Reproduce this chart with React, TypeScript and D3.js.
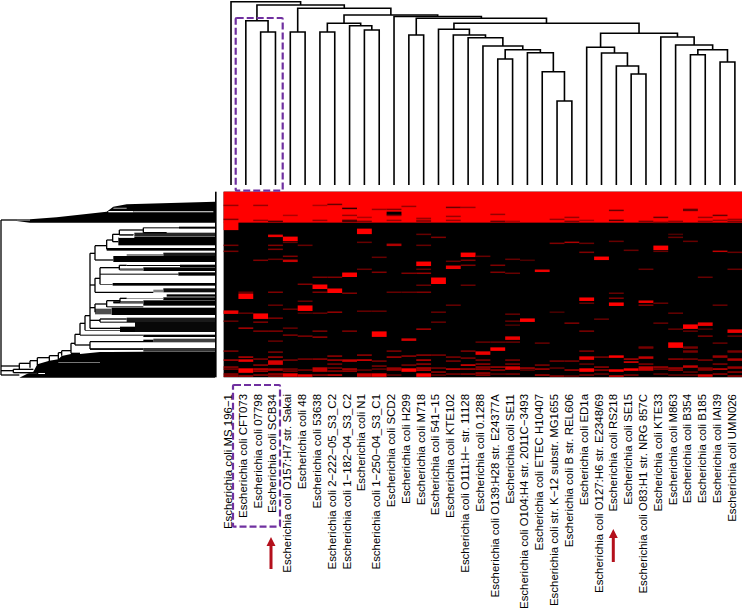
import * as d3 from "d3";

const strains = ["MS 196−1", "CFT073", "07798", "SCB34", "O157:H7 str. Sakai", "48", "53638", "2−222−05_S3_C2", "1−182−04_S3_C2", "N1", "1−250−04_S3_C1", "SCD2", "H299", "M718", "541−15", "KTE102", "O111:H− str. 11128", "0.1288", "O139:H28 str. E24377A", "SE11", "O104:H4 str. 2011C−3493", "ETEC H10407", "str. K−12 substr. MG1655", "B str. REL606", "ED1a", "O127:H6 str. E2348/69", "RS218", "SE15", "O83:H1 str. NRG 857C", "KTE33", "M863", "B354", "B185", "IAI39", "UMN026"];

// column dendrogram: [merge height, left, right], a number is a leaf
const columnTree: any = [183.3, 0, [180,
  [164.3, 1, [153, 2, 3]],
  [176.7, [153, 4, 5], [170,
    [161.7, [153, 6, 7], [159.3, 8, [155, 9, 10]]],
    [168.5, 11, [166.7, [150, 12, 13], [161.7,
      [155.7, 14, [150, 15, [147.3, 16, [139, 17, [135.3, [126, 18, 19], [132.3, 20, [113.3, 21, [84, 22, 23]]]]]]]],
      [151.7,
        [137.7, 24, [132, 25, [119, 26, [111, 27, 28]]]],
        [148, 29, [140, 30, [135.3, [130.3, 31, 32], [123, 33, 34]]]]
      ]
    ]]]
  ]]
]];

const rowCount = 186;
const topBlockRows = 31;

// [column, first row, row count, level]
const topStreaks = [
  [0, 13, 1, .5], [0, 27, 1, .4], [2, 13, 1, .5], [2, 28, 1, .5], [3, 29, 1, .2], [4, 23, 1, .6], [6, 13, 1, .6], [6, 28, 1, .5],
  [7, 12, 1, .3], [8, 16, 1, .1], [8, 23, 1, .5], [8, 28, 2, .2], [9, 25, 1, .6], [9, 29, 1, .4], [10, 17, 1, .5], [11, 17, 1, .4],
  [11, 20, 3, 0], [11, 23, 1, .4], [11, 28, 1, .5], [12, 14, 1, .5], [13, 26, 1, .5], [13, 28, 1, .5], [13, 29, 1, .5], [15, 15, 1, .3],
  [15, 24, 1, .5], [15, 28, 1, .5], [16, 15, 1, .5], [18, 22, 1, .5], [18, 29, 1, .3], [19, 29, 1, .6], [22, 27, 1, .5], [23, 25, 1, .5],
  [23, 29, 1, .4], [24, 28, 1, .6], [26, 18, 1, .3], [26, 28, 1, .2], [28, 29, 1, .4], [29, 25, 1, .3], [29, 30, 1, .4], [30, 29, 1, .5],
  [31, 17, 2, .3], [32, 25, 1, .5], [32, 29, 1, .5], [33, 23, 1, .3], [33, 28, 1, .5], [34, 27, 1, .5], [34, 29, 1, .4],
];

const bodyHits = [
  [0, 30, 8, 1], [0, 53, 1, .35], [0, 59, 1, .35], [0, 119, 3, .9], [0, 129, 1, .3],
  [1, 100, 1, .3], [1, 102, 5, 1], [1, 121, 1, .3], [1, 136, 1, .6],
  [2, 68, 1, .4], [2, 122, 5, 1], [2, 130, 1, .4], [2, 139, 1, .4],
  [3, 43, 2, .9], [3, 53, 1, .4], [3, 57, 1, .4], [3, 67, 1, .3], [3, 100, 1, .4], [3, 113, 1, .3], [3, 126, 1, .4], [3, 139, 1, .4], [3, 149, 1, .3],
  [4, 45, 4, 1], [4, 50, 1, .3], [4, 64, 1, .4], [4, 68, 2, .7], [4, 117, 1, .3], [4, 136, 1, .3], [4, 143, 1, .4],
  [5, 53, 1, .3], [5, 92, 1, .4], [5, 109, 1, .3], [5, 114, 5, 1], [5, 121, 1, .2], [5, 144, 1, .4],
  [6, 85, 1, .4], [6, 93, 4, 1], [6, 100, 1, .4], [6, 121, 1, .3], [6, 139, 1, .4], [6, 145, 1, .5],
  [7, 85, 1, .4], [7, 97, 4, 1], [7, 120, 1, .5],
  [8, 81, 4, 1], [8, 101, 1, .4], [8, 139, 1, .4],
  [9, 37, 5, 1], [9, 50, 1, .3], [9, 77, 1, .3], [9, 119, 1, .3],
  [10, 65, 1, .3], [10, 80, 1, .4], [10, 119, 1, .3], [10, 140, 5, 1],
  [11, 52, 2, .6], [11, 100, 1, .3],
  [12, 81, 1, .4], [12, 100, 1, .3], [12, 147, 2, .8],
  [13, 42, 1, .3], [13, 53, 1, .3], [13, 70, 4, 1], [13, 77, 1, .3], [13, 81, 1, .5], [13, 93, 1, .3], [13, 100, 1, .4], [13, 137, 1, .6],
  [14, 45, 1, .4], [14, 86, 6, 1], [14, 120, 1, .3], [14, 130, 1, .3],
  [15, 69, 1, .3], [15, 74, 3, .9], [15, 113, 1, .3],
  [16, 61, 4, 1], [16, 68, 1, .4], [16, 73, 1, .4], [16, 93, 1, .3],
  [17, 64, 1, .3], [17, 150, 1, .3],
  [18, 73, 1, .4], [18, 80, 1, .4], [18, 150, 1, .3],
  [19, 67, 1, .3], [19, 81, 1, .3], [19, 122, 1, .3], [19, 129, 1, .3], [19, 133, 1, .2], [19, 145, 3, .9], [19, 150, 1, .3],
  [20, 68, 1, .2], [20, 127, 3, 1],
  [21, 78, 2, .9], [21, 151, 1, .3],
  [22, 51, 1, .4], [22, 120, 1, .2],
  [23, 50, 1, .6], [23, 131, 1, .4],
  [24, 51, 1, .3], [24, 60, 1, .4], [24, 106, 3, 1], [24, 111, 1, .3], [24, 139, 1, .4],
  [25, 65, 3, 1], [25, 127, 1, .3],
  [26, 49, 1, .3], [26, 101, 1, .3], [26, 106, 1, .4], [26, 111, 3, 1],
  [27, 58, 1, .3],
  [28, 77, 1, .3], [28, 109, 2, .9], [28, 113, 1, .4], [28, 156, 1, .3],
  [29, 54, 4, 1], [29, 59, 1, .3], [29, 111, 1, .3], [29, 131, 1, .3],
  [30, 42, 1, .2], [30, 45, 1, .3], [30, 121, 1, .3], [30, 137, 1, .3], [30, 151, 5, 1],
  [31, 49, 1, .3], [31, 133, 4, 1], [31, 139, 1, .3], [31, 156, 1, .3], [31, 160, 1, .3],
  [32, 85, 1, .3], [32, 131, 3, .9], [32, 137, 1, .2], [32, 144, 1, .4],
  [33, 59, 1, .7], [33, 113, 1, .3], [33, 151, 1, .3],
  [34, 60, 1, .3], [34, 77, 1, .3], [34, 138, 3, .9], [34, 144, 1, .3], [34, 160, 1, .3],
];

const bottomHits = [
  [0, 159, 1, .4], [0, 168, 1, .6], [0, 175, 1, .5], [0, 177, 1, .4], [0, 182, 1, .5], [0, 184, 1, .6],
  [1, 165, 1, .7], [1, 168, 2, .9], [1, 177, 4, 1], [1, 184, 1, .6],
  [2, 167, 1, .4], [2, 173, 1, .5], [2, 177, 1, .8], [2, 179, 1, .7], [2, 183, 1, .5],
  [3, 160, 1, .4], [3, 165, 1, .6], [3, 169, 4, .8], [3, 177, 2, .6], [3, 182, 1, .6], [3, 184, 1, .5],
  [4, 168, 1, .4], [4, 177, 1, .4], [4, 179, 1, .4], [4, 182, 3, .9],
  [5, 167, 1, .4], [5, 178, 1, .4], [5, 183, 2, .9],
  [6, 167, 1, .5], [6, 176, 4, .7], [6, 183, 1, .5],
  [7, 164, 1, .5], [7, 168, 1, .6], [7, 172, 1, .4], [7, 176, 1, .4], [7, 179, 1, .5], [7, 183, 1, .8],
  [8, 168, 2, .7], [8, 177, 1, .7], [8, 179, 1, .6],
  [9, 163, 1, .5], [9, 168, 1, .9], [9, 178, 1, .3], [9, 182, 3, .7],
  [10, 169, 1, .4], [10, 174, 1, .4], [10, 177, 1, .3], [10, 182, 3, .9],
  [11, 159, 1, .4], [11, 165, 1, .6], [11, 176, 3, .5], [11, 183, 1, .3],
  [12, 164, 1, .5], [12, 173, 1, .4], [12, 177, 3, 1],
  [13, 163, 1, .5], [13, 168, 1, .7], [13, 172, 1, .5], [13, 176, 1, .7], [13, 178, 1, .8], [13, 182, 3, 1],
  [14, 163, 1, .4], [14, 176, 1, .4], [14, 180, 1, .5], [14, 183, 1, .3],
  [15, 165, 1, .4], [15, 169, 1, .4], [15, 177, 1, .8], [15, 182, 1, .4],
  [16, 159, 1, .4], [16, 166, 1, .4], [16, 173, 1, .9], [16, 177, 1, .6], [16, 182, 1, .5],
  [17, 160, 3, .9], [17, 168, 1, .4], [17, 172, 1, .5], [17, 175, 1, .5], [17, 177, 1, .6], [17, 181, 1, .6], [17, 183, 1, .5],
  [18, 156, 3, 1], [18, 175, 1, .6], [18, 178, 1, .5], [18, 182, 1, .3],
  [19, 168, 1, .4], [19, 172, 1, .4], [19, 175, 3, .8], [19, 182, 1, .4],
  [20, 176, 1, .6], [20, 178, 1, .3],
  [21, 173, 1, .4], [21, 177, 1, .6], [21, 183, 1, .6],
  [22, 169, 1, .4], [22, 176, 1, .3], [22, 184, 1, .5],
  [23, 169, 1, .4], [23, 178, 1, .6], [23, 184, 1, .3],
  [24, 159, 1, .4], [24, 165, 3, .9], [24, 172, 1, .3], [24, 177, 3, 1], [24, 183, 1, .4],
  [25, 165, 1, .4], [25, 175, 1, .5], [25, 178, 1, .5], [25, 182, 1, .3],
  [26, 164, 2, 1], [26, 178, 2, 1], [26, 184, 1, .8],
  [27, 167, 1, .6], [27, 170, 1, .9], [27, 177, 2, 1], [27, 183, 1, .4],
  [28, 155, 1, .4], [28, 165, 2, .7], [28, 172, 1, .4], [28, 175, 4, .7],
  [29, 175, 1, .6], [29, 177, 1, .4], [29, 182, 1, .3],
  [30, 167, 1, .5], [30, 176, 1, .6], [30, 178, 1, .6], [30, 183, 1, .3],
  [31, 155, 1, .4], [31, 159, 1, .4], [31, 167, 1, .4], [31, 174, 2, .7], [31, 180, 1, .3], [31, 183, 1, .3],
  [32, 168, 1, .4], [32, 176, 3, .4], [32, 183, 2, .8],
  [33, 164, 2, .5], [33, 172, 1, .4], [33, 177, 1, .8], [33, 182, 1, .5],
  [34, 159, 1, .4], [34, 167, 2, .6], [34, 175, 2, .5], [34, 180, 1, .5], [34, 184, 1, .5],
];

// row dendrogram: node(depth, row, ...children), no children means a leaf clade
const node = (depth: number, row: number, ...kids: any[]) => ({ depth, row, kids });

const upperBranch = node(285, 205,
  node(320, 182,
    node(338, 165,
      node(358, 148,
        node(430, 135, node(430, 128), node(500, 143)),
        node(400, 150)),
      node(355, 170)),
    node(320, 193)),
  node(340, 225));

const middleBranch = node(285, 300,
  node(300, 280,
    node(358, 248, node(380, 241), node(360, 254)),
    node(300, 267),
    node(300, 298)),
  node(460, 322));

const lowerBranch = node(285, 368,
  node(320, 357,
    node(360, 347, node(380, 340), node(340, 352)),
    node(320, 366)),
  node(285, 382));

const spine = node(270, 392,
  upperBranch, middleBranch, lowerBranch,
  node(300, 406, node(300, 402), node(300, 411)),
  node(360, 430));

const stairs = node(58, 543,
  node(90, 535,
    node(112, 527,
      node(148, 518,
        node(175, 512,
          node(185, 503,
            node(213, 497,
              node(225, 475,
                node(240, 448, node(255, 415, spine, node(255, 436)), node(240, 450)),
                node(270, 480, node(460, 470), node(430, 492))),
              node(240, 505)),
            node(185, 512)),
          node(175, 524)),
        node(148, 530)),
      node(112, 540)),
    node(90, 548)),
  node(58, 553));

const rowTree = node(3, 330, node(50, 105), stairs, node(40, 557, node(100, 553), node(110, 563)), node(58, 570));

// outline of the two big leaf masses of the row dendrogram
const topCladeDepth = [50, 90, 170, 320, 340, 380, 645];
const topCladeUpper = [103, 103, 97, 80, 65, 58, 50];
const topCladeLower = [108, 113, 113, 113, 113, 113, 113];
const bottomCladeDepth = [58, 85, 100, 112, 148, 175, 185, 213, 240, 300, 330, 430, 645];
const bottomCladeUpper = [578, 565, 560, 538, 527, 523, 513, 507, 507, 501, 501, 500, 500];

// [first row, last row, first depth, last depth, tone]
const rowBands = [
  [102, 108, 50, 90, .4], [78, 82, 325, 400, 1], [78, 82, 400, 640, .7], [68, 72, 340, 380, .5],
  [125, 131, 537, 645, 0], [127, 130, 430, 537, 0], [143, 155, 403, 645, .15], [147, 150, 358, 403, .6],
  [156, 181, 355, 645, 0], [156, 159, 355, 403, .9], [189, 197, 320, 645, 0],
  [203, 213, 490, 645, .1], [208, 212, 380, 490, .3], [213, 231, 340, 645, 0],
  [239, 246, 540, 645, 0], [240, 243, 380, 540, 0], [247, 258, 430, 645, 0], [250, 257, 360, 430, .35],
  [262, 272, 535, 645, 0], [266, 269, 300, 535, 0], [294, 302, 338, 645, 0], [297, 299, 300, 338, 0],
  [310, 322, 490, 645, .05], [314, 322, 460, 490, .5],
  [328, 335, 500, 645, 0], [337, 345, 490, 645, 0], [339, 342, 380, 490, .6], [346, 362, 430, 645, 0], [348, 356, 340, 430, .35],
  [364, 367, 320, 430, 0], [368, 390, 335, 645, 0], [371, 388, 285, 335, .3],
  [398, 411, 380, 645, .1], [400, 404, 300, 380, 0], [411, 441, 405, 645, .03], [410, 413, 300, 405, 0],
  [425, 441, 360, 405, 0], [435, 437, 255, 360, 0], [449, 452, 240, 430, 0], [449, 456, 430, 645, 0],
  [461, 472, 460, 645, .25], [464, 468, 430, 460, 0], [468, 470, 270, 460, 0], [489, 500, 430, 645, .2], [491, 494, 270, 430, 0],
  [532, 534, 175, 300, .7], [564, 567, 115, 135, 1], [553, 555, 58, 100, .7], [563, 565, 60, 110, .6],
];

const purple = "#7030a0";
const arrowRed = "#b4101c";

// where the arrows stand
const arrowX = [271, 613.3];
const arrowTip = [537, 529];
const arrowLength = [32, 33];

const width = 742;
const height = 612;

export default function App() {
  const columns = d3.range(strains.length);
  const xCol = d3.scaleBand<number>().domain(columns).range([223.6, 742.3]);
  const xMid = (c: number) => xCol(c)! + xCol.bandwidth() / 2;
  const yHeight = d3.scaleLinear().domain([0, 185]).range([185, 0]);
  const yRow = d3.scaleBand<number>().domain(d3.range(rowCount)).range([191.7, 377.3]);
  const level = d3.scalePow<string>().exponent(0.75).domain([0, 1]).range(["#000000", "#ff0000"]);
  const tone = d3.scaleLinear<string>().domain([0, 1]).range(["#000000", "#ffffff"]);

  // row dendrogram is read in thirds of a pixel
  const xDepth = d3.scaleLinear().domain([0, 645]).range([0, 215]);
  const yPos = d3.scaleLinear().domain([0, 600]).range([185, 385]);

  const colPaths: string[] = [];
  const walkCol = (n: any): { x: number; h: number } => {
    if (typeof n === "number") return { x: xMid(n), h: 0 };
    const [h, l, r] = n;
    const a = walkCol(l);
    const b = walkCol(r);
    colPaths.push(`M${a.x},${yHeight(a.h)}V${yHeight(h)}H${b.x}V${yHeight(b.h)}`);
    return { x: (a.x + b.x) / 2, h };
  };
  walkCol(columnTree);

  const rowPaths: string[] = [];
  const walkRow = (n: any) => {
    if (!n.kids.length) return;
    const rows = n.kids.map((k: any) => k.row);
    rowPaths.push(`M${xDepth(n.depth)},${yPos(d3.min(rows) as number)}V${yPos(d3.max(rows) as number)}`);
    n.kids.forEach((k: any) => {
      rowPaths.push(`M${xDepth(n.depth)},${yPos(k.row)}H${xDepth(k.depth)}`);
      walkRow(k);
    });
  };
  walkRow(rowTree);

  const topArea = d3.area<number>()
    .x(i => xDepth(topCladeDepth[i]))
    .y0(i => yPos(topCladeLower[i]))
    .y1(i => yPos(topCladeUpper[i]));
  const bottomArea = d3.area<number>()
    .x(i => xDepth(bottomCladeDepth[i]))
    .y0(() => yPos(578))
    .y1(i => yPos(bottomCladeUpper[i]));

  const cell = (d: number[], key: string) => (
    <rect key={key} x={xCol(d[0])} width={xCol.bandwidth()} y={yRow(d[1])} height={yRow.bandwidth() * d[2] + 0.5} fill={level(d[3])} />
  );

  return (
    <svg width={width} height={height} style={{ position: "absolute", left: 0, top: 0, background: "#fff" }}>
      <g fill="none" stroke="#000" strokeWidth={1.6}>
        {colPaths.map((d, i) => <path key={i} d={d} />)}
      </g>

      <path d={topArea(d3.range(topCladeDepth.length))!} fill="#000" />
      <path d={bottomArea(d3.range(bottomCladeDepth.length))!} fill="#000" />
      {rowBands.map((d, i) => (
        <rect key={i} x={xDepth(d[2])} width={xDepth(d[3]) - xDepth(d[2])} y={yPos(d[0])} height={yPos(d[1]) - yPos(d[0])} fill={tone(d[4])} />
      ))}
      <g fill="none" stroke="#000" strokeWidth={1.3}>
        {rowPaths.map((d, i) => <path key={i} d={d} />)}
      </g>
      <rect x={xDepth(645)} width={1.6} y={yRow(0)} height={yRow.step() * rowCount} fill="#000" />

      <rect x={xCol(0)} width={xCol.step() * columns.length} y={yRow(0)} height={yRow.step() * rowCount} fill="#000" />
      <rect x={xCol(0)} width={xCol.step() * columns.length} y={yRow(0)} height={yRow.step() * topBlockRows} fill={level(1)} />
      {topStreaks.map((d, i) => cell(d, `t${i}`))}
      {bodyHits.map((d, i) => cell(d, `b${i}`))}
      {bottomHits.map((d, i) => cell(d, `c${i}`))}

      <g fontFamily="'Liberation Sans', Arial, sans-serif" fontSize={11.45} fill="#000">
        {strains.map((s, i) => (
          <text key={s} textAnchor="end" transform={`translate(${xMid(i) + 1},394) rotate(-90)`}>
            {`Escherichia coli ${s}`}
          </text>
        ))}
      </g>

      <g fill="none" stroke={purple} strokeWidth={2.2} strokeDasharray="7 3">
        <rect x={235.7} y={18} width={47} height={172.7} rx={1} />
        <rect x={233} y={385} width={47} height={141.7} rx={1} />
      </g>

      <g fill={arrowRed}>
        {arrowX.map((x, i) => (
          <path key={x} d={`M${x},${arrowTip[i]}l4.5,9h-3v${arrowLength[i] - 9}h-3v-${arrowLength[i] - 9}h-3z`} />
        ))}
      </g>
    </svg>
  );
}
